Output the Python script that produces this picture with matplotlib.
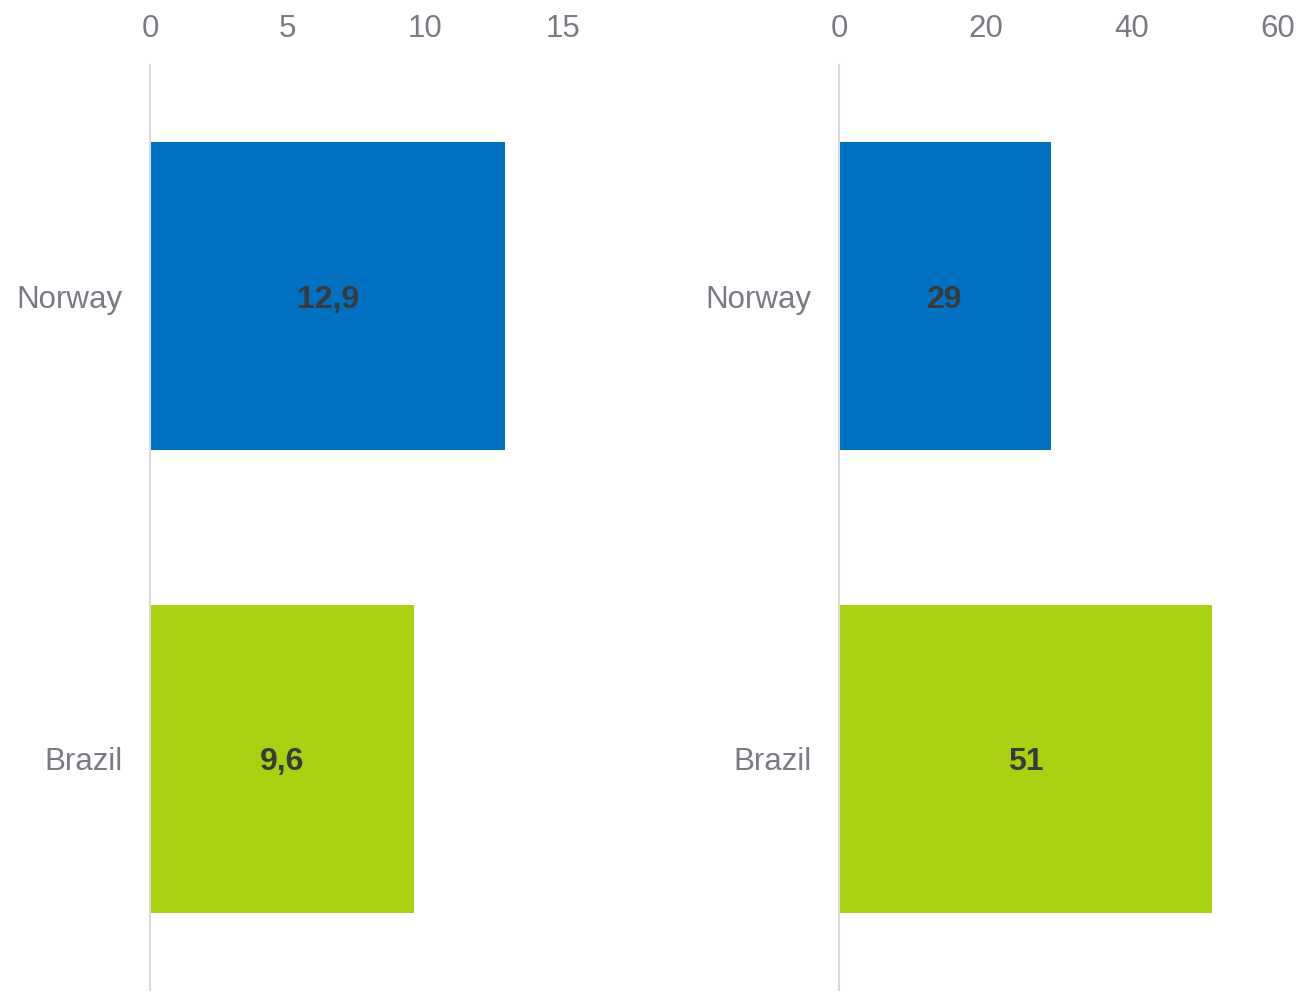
import matplotlib.pyplot as plt

countries = ['Norway', 'Brazil']
left_values = [12.9, 9.6]
left_labels = ['12,9', '9,6']
right_values = [29, 51]
right_labels = ['29', '51']
left_ticks = [0, 5, 10, 15]
right_ticks = [0, 20, 40, 60]
colors = ['#0070C0', '#A8D20F']

plt.rcParams['font.family'] = ['Liberation Sans', 'DejaVu Sans']

fig = plt.figure(figsize=(13.11, 9.94), dpi=100)
ax1 = fig.add_axes([150 / 1311, 1 - 990 / 994, 413 / 1311, 925 / 994])
ax2 = fig.add_axes([839 / 1311, 1 - 990 / 994, 439 / 1311, 925 / 994])

panels = [
    (ax1, left_values, left_labels, left_ticks),
    (ax2, right_values, right_labels, right_ticks),
]

for ax, vals, labels, ticks in panels:
    y = list(range(len(countries)))
    ax.barh(y, vals, height=0.667, color=colors)
    for yi, v, lab in zip(y, vals, labels):
        ax.text(v / 2, yi, lab, ha='center', va='center_baseline', fontsize=23,
                fontweight='bold', color='#3a3a3a')
    ax.set_ylim(1.5, -0.5)
    ax.set_xlim(ticks[0], ticks[-1])
    ax.set_xticks(ticks)
    ax.set_yticks(y)
    ax.set_yticklabels(countries)
    ax.xaxis.tick_top()
    ax.tick_params(axis='both', length=0, labelsize=22.5, colors='#7a7a85')
    ax.tick_params(axis='x', pad=15)
    ax.tick_params(axis='y', pad=20)
    for side in ['top', 'right', 'bottom']:
        ax.spines[side].set_visible(False)
    ax.spines['left'].set_color('#d9d9d9')
    ax.spines['left'].set_linewidth(1.5)

fig.savefig('out.png', dpi=100, facecolor='white')
